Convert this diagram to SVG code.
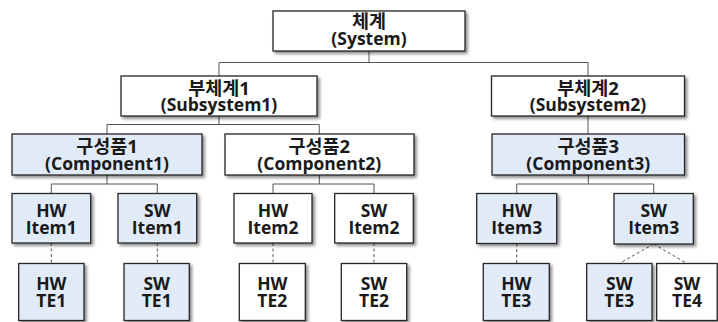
<svg xmlns="http://www.w3.org/2000/svg" width="718" height="322" viewBox="0 0 718 322">
  <style>
    .box { fill: #ffffff; stroke: #262626; stroke-width: 1.3; filter: url(#shadow); }
    .box.hl { fill: #e1ebf8; }
    .lbl { font-family: "Open Sans", "Noto Sans CJK KR", sans-serif; font-weight: 700; font-size: 17.5px; fill: #1a1a1a; text-anchor: middle; }
    .ko { font-size: 18.5px; }
    .tree { fill: none; stroke: #555555; stroke-width: 1; }
    .trace { fill: none; stroke: #555555; stroke-width: 1; stroke-dasharray: 3 2.5; }
  </style>
  <defs>
    <filter id="shadow" x="-10%" y="-10%" width="130%" height="140%">
      <feDropShadow dx="2.2" dy="2.2" stdDeviation="1.4" flood-color="#000000" flood-opacity="0.45"/>
    </filter>
  </defs>
  <rect width="718" height="322" fill="#ffffff"/>

  <!-- connectors: solid = decomposition, dashed = test element link -->
  <g id="connectors">
    <path class="tree" d="M369 51 V62.5 M219 76 V62.5 H588 V76"/>
    <path class="tree" d="M219 116 V124.5 M107 134 V124.5 H319.3 V134"/>
    <path class="tree" d="M588 116 V134"/>
    <path class="tree" d="M107 175 V184 M51.3 193.5 V184 H157.3 V193.5"/>
    <path class="tree" d="M319.3 175 V184 M273 193.5 V184 H374 V193.5"/>
    <path class="tree" d="M588.3 175 V184 M516.7 193.5 V184 H653.7 V193.5"/>
    <path class="trace" d="M51.3 243 V263.5"/>
    <path class="trace" d="M157.3 243 V263.5"/>
    <path class="trace" d="M273 243 V263.5"/>
    <path class="trace" d="M374 243 V263.5"/>
    <path class="trace" d="M516.7 243.5 V263.5"/>
    <path class="trace" d="M653.7 244 L619.3 263.5 M653.7 244 L687 263.5"/>
  </g>

  <!-- level 0 -->
  <g id="system">
    <rect class="box" x="273" y="11" width="192" height="40"/>
    <text class="lbl"><tspan class="ko" x="369" y="28">체계</tspan><tspan x="369" y="44.5">(System)</tspan></text>
  </g>

  <!-- level 1 -->
  <g id="subsystem1">
    <rect class="box" x="121" y="76" width="196" height="40"/>
    <text class="lbl"><tspan class="ko" x="219" y="95">부체계1</tspan><tspan x="219" y="111">(Subsystem1)</tspan></text>
  </g>
  <g id="subsystem2">
    <rect class="box" x="491.5" y="76" width="193" height="40"/>
    <text class="lbl"><tspan class="ko" x="588" y="95">부체계2</tspan><tspan x="588" y="111">(Subsystem2)</tspan></text>
  </g>

  <!-- level 2 -->
  <g id="component1">
    <rect class="box hl" x="12" y="134" width="190" height="41"/>
    <text class="lbl"><tspan class="ko" x="107" y="153">구성품1</tspan><tspan x="107" y="169.5">(Component1)</tspan></text>
  </g>
  <g id="component2">
    <rect class="box" x="225" y="134" width="189" height="41"/>
    <text class="lbl"><tspan class="ko" x="319.3" y="153">구성품2</tspan><tspan x="319.3" y="169.5">(Component2)</tspan></text>
  </g>
  <g id="component3">
    <rect class="box hl" x="492" y="134" width="192.5" height="41"/>
    <text class="lbl"><tspan class="ko" x="588.3" y="153">구성품3</tspan><tspan x="588.3" y="169.5">(Component3)</tspan></text>
  </g>

  <!-- level 3: configuration items -->
  <g id="hw-item1">
    <rect class="box hl" x="12" y="193.5" width="78.7" height="49.5"/>
    <text class="lbl"><tspan x="51.3" y="216.5">HW</tspan><tspan x="51.3" y="233.5">Item1</tspan></text>
  </g>
  <g id="sw-item1">
    <rect class="box hl" x="118" y="193.5" width="78.7" height="49.5"/>
    <text class="lbl"><tspan x="157.3" y="216.5">SW</tspan><tspan x="157.3" y="233.5">Item1</tspan></text>
  </g>
  <g id="hw-item2">
    <rect class="box" x="234" y="193.5" width="78" height="49.5"/>
    <text class="lbl"><tspan x="273" y="216.5">HW</tspan><tspan x="273" y="233.5">Item2</tspan></text>
  </g>
  <g id="sw-item2">
    <rect class="box" x="334.7" y="193.5" width="78.6" height="49.5"/>
    <text class="lbl"><tspan x="374" y="216.5">SW</tspan><tspan x="374" y="233.5">Item2</tspan></text>
  </g>
  <g id="hw-item3">
    <rect class="box hl" x="476.7" y="193.5" width="80" height="50"/>
    <text class="lbl"><tspan x="516.7" y="216.5">HW</tspan><tspan x="516.7" y="233.5">Item3</tspan></text>
  </g>
  <g id="sw-item3">
    <rect class="box hl" x="614" y="193.5" width="79.3" height="50.5"/>
    <text class="lbl"><tspan x="653.7" y="216.5">SW</tspan><tspan x="653.7" y="233.5">Item3</tspan></text>
  </g>

  <!-- level 4: test elements -->
  <g id="hw-te1">
    <rect class="box hl" x="18.7" y="263.5" width="65.3" height="57"/>
    <text class="lbl"><tspan x="51.3" y="289.5">HW</tspan><tspan x="51.3" y="306.5">TE1</tspan></text>
  </g>
  <g id="sw-te1">
    <rect class="box hl" x="124" y="263.5" width="65.3" height="57"/>
    <text class="lbl"><tspan x="156.7" y="289.5">SW</tspan><tspan x="156.7" y="306.5">TE1</tspan></text>
  </g>
  <g id="hw-te2">
    <rect class="box" x="239.3" y="263.5" width="66" height="57"/>
    <text class="lbl"><tspan x="272.3" y="289.5">HW</tspan><tspan x="272.3" y="306.5">TE2</tspan></text>
  </g>
  <g id="sw-te2">
    <rect class="box" x="341.3" y="263.5" width="65.4" height="57"/>
    <text class="lbl"><tspan x="374" y="289.5">SW</tspan><tspan x="374" y="306.5">TE2</tspan></text>
  </g>
  <g id="hw-te3">
    <rect class="box hl" x="483.3" y="263.5" width="66" height="57"/>
    <text class="lbl"><tspan x="516.3" y="289.5">HW</tspan><tspan x="516.3" y="306.5">TE3</tspan></text>
  </g>
  <g id="sw-te3">
    <rect class="box hl" x="586.7" y="263.5" width="65.3" height="57"/>
    <text class="lbl"><tspan x="619.3" y="289.5">SW</tspan><tspan x="619.3" y="306.5">TE3</tspan></text>
  </g>
  <g id="sw-te4">
    <rect class="box" x="656.7" y="263.5" width="60.5" height="57"/>
    <text class="lbl"><tspan x="687" y="289.5">SW</tspan><tspan x="687" y="306.5">TE4</tspan></text>
  </g>
</svg>
